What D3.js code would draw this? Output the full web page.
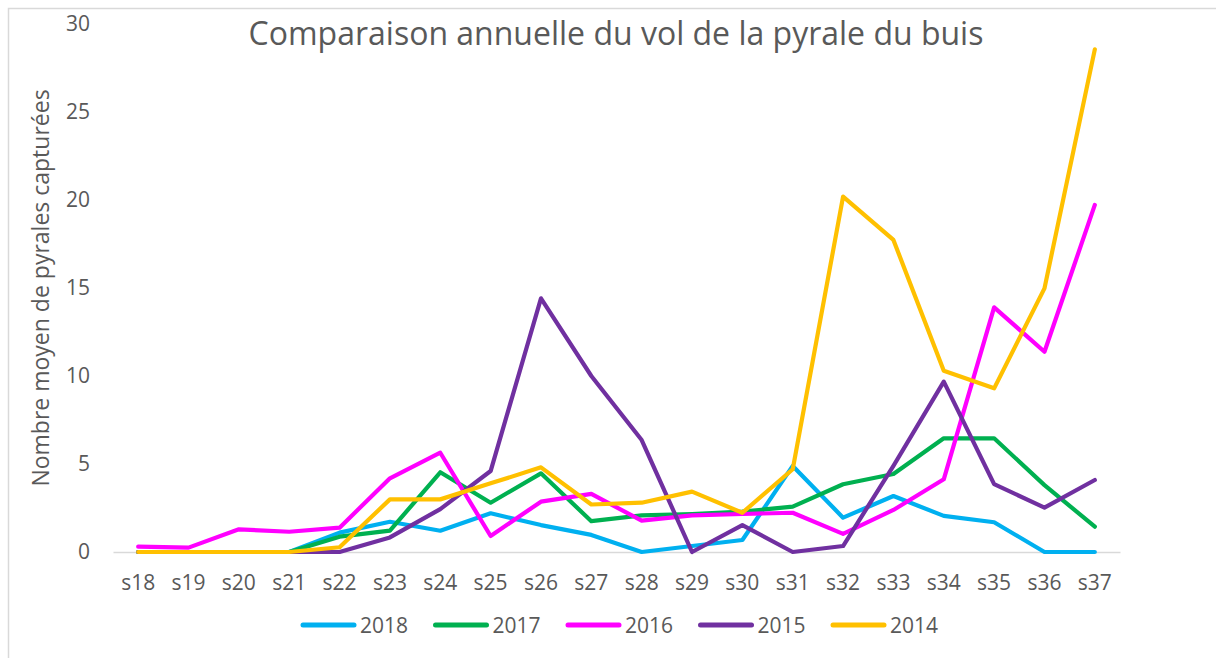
<!DOCTYPE html>
<html>
<head>
<meta charset="utf-8">
<script src="https://cdn.jsdelivr.net/npm/d3@7"></script>
<style>
  body { margin: 0; background: #fff; }
  text { font-family: "Open Sans", sans-serif; fill: #595959; }
</style>
</head>
<body>
<div id="chart"></div>
<script>
const width = 1216;
const height = 658;

// Weeks on the x axis
const weeks = ["s18", "s19", "s20", "s21", "s22", "s23", "s24", "s25", "s26", "s27",
  "s28", "s29", "s30", "s31", "s32", "s33", "s34", "s35", "s36", "s37"];

// Mean number of moths caught
const v2018 = [0, 0, 0, 0, 1.1, 1.72, 1.21, 2.2, 1.53, 0.97, 0, 0.34, 0.68, 4.89, 1.95, 3.18, 2.05, 1.69, 0, 0];
const v2017 = [0, 0, 0, 0, 0.87, 1.21, 4.53, 2.8, 4.47, 1.75, 2.08, 2.16, 2.29, 2.58, 3.85, 4.43, 6.46, 6.46, 3.8, 1.44];
const v2016 = [0.3, 0.25, 1.29, 1.15, 1.38, 4.19, 5.64, 0.91, 2.86, 3.3, 1.78, 2.08, 2.16, 2.23, 1.03, 2.39, 4.13, 13.9, 11.38, 19.72];
const v2015 = [0, 0, 0, 0, 0, 0.83, 2.44, 4.6, 14.41, 10.0, 6.36, 0, 1.53, 0, 0.34, 4.9, 9.68, 3.86, 2.52, 4.09];
const v2014 = [0, 0, 0, 0, 0.27, 2.99, 2.99, 3.9, 4.81, 2.7, 2.8, 3.43, 2.23, 4.7, 20.19, 17.73, 10.3, 9.3, 14.98, 28.56];

const years = ["2018", "2017", "2016", "2015", "2014"];
const values = [v2018, v2017, v2016, v2015, v2014];
const colors = ["#00B0F0", "#00B050", "#FF00FF", "#7030A0", "#FFC000"];

const yTicks = [0, 5, 10, 15, 20, 25, 30];

const svg = d3.select("#chart")
  .append("svg")
  .attr("width", width)
  .attr("height", height);

// chart frame (cut off at the right and bottom in the original)
svg.append("rect")
  .attr("x", 8.5).attr("y", 8.5)
  .attr("width", 1400).attr("height", 900)
  .attr("fill", "none")
  .attr("stroke", "#D9D9D9")
  .attr("stroke-width", 1.5);

const x = d3.scaleBand().domain(weeks).range([113, 1120]);
const y = d3.scaleLinear().domain([0, 30]).range([552, 24]);
const cx = d => x(d) + x.bandwidth() / 2;

// title
svg.append("text")
  .attr("x", 616).attr("y", 45)
  .attr("text-anchor", "middle")
  .style("font-size", "32px")
  .text("Comparaison annuelle du vol de la pyrale du buis");

// y axis
const yAxis = svg.append("g")
  .attr("transform", "translate(113,0)")
  .call(d3.axisLeft(y).tickValues(yTicks).tickSize(0).tickPadding(23));
yAxis.select(".domain").remove();
yAxis.selectAll("text").style("font-size", "21px").attr("fill", "#595959");

svg.append("text")
  .attr("transform", `translate(49,${(y(0) + y(30)) / 2}) rotate(-90)`)
  .attr("text-anchor", "middle")
  .style("font-size", "23px")
  .text("Nombre moyen de pyrales capturées");

// x axis
const xAxis = svg.append("g")
  .attr("transform", `translate(0,${y(0)})`)
  .call(d3.axisBottom(x).tickSize(0).tickPadding(23));
xAxis.select(".domain").attr("stroke", "#D9D9D9").attr("stroke-width", 1.5);
xAxis.selectAll("text").style("font-size", "21px").attr("fill", "#595959");

// lines
const line = d3.line()
  .x((d, i) => cx(weeks[i]))
  .y(d => y(d));

svg.selectAll(".series")
  .data(values)
  .join("path")
  .attr("class", "series")
  .attr("d", line)
  .attr("fill", "none")
  .attr("stroke", (d, i) => colors[i])
  .attr("stroke-width", 4.2)
  .attr("stroke-linejoin", "round")
  .attr("stroke-linecap", "round");

// legend
const legend = svg.append("g")
  .selectAll("g")
  .data(years)
  .join("g")
  .attr("transform", (d, i) => `translate(${300 + i * 132.5},625)`);

legend.append("line")
  .attr("x1", 3).attr("x2", 54)
  .attr("stroke", (d, i) => colors[i])
  .attr("stroke-width", 5)
  .attr("stroke-linecap", "round");

legend.append("text")
  .attr("x", 60).attr("y", 7.5)
  .style("font-size", "21px")
  .text(d => d);
</script>
</body>
</html>
